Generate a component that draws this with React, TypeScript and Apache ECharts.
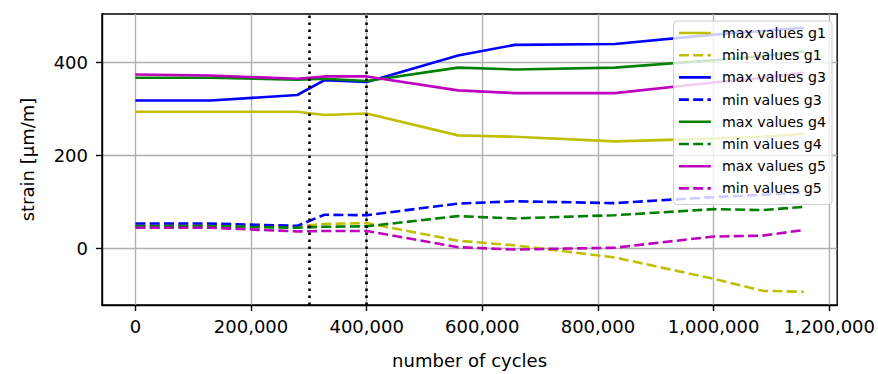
import React, { useEffect, useRef } from "react";
import * as echarts from "echarts";

const cycles = [0, 130000, 280000, 327000, 400000, 558000, 656000, 829000, 1000000, 1085000, 1156000];
const maxG1 = [294, 294, 294, 287, 290, 243, 240, 230, 236, 240, 246];
const minG1 = [49, 49, 47, 52, 54, 16, 6, -20, -66, -92, -94];
const maxG3 = [318, 318, 330, 362, 358, 415, 438, 440, 460, 468, 475];
const minG3 = [53, 53, 48, 72, 71, 96, 101, 97, 110, 115, 120];
const maxG4 = [367, 367, 363, 365, 360, 389, 385, 389, 405, 414, 424];
const minG4 = [47, 47, 44, 46, 47, 69, 64, 71, 84, 82, 89];
const maxG5 = [374, 372, 365, 370, 370, 340, 334, 334, 357, 367, 378];
const minG5 = [44, 44, 36, 37, 37, 2, -3, 1, 25, 27, 39];

const seriesNames = [
  "max values g1",
  "min values g1",
  "max values g3",
  "min values g3",
  "max values g4",
  "min values g4",
  "max values g5",
  "min values g5",
];
const seriesValues = [maxG1, minG1, maxG3, minG3, maxG4, minG4, maxG5, minG5];
const seriesColors = ["#bfbf00", "#bfbf00", "#0000ff", "#0000ff", "#008000", "#008000", "#bf00bf", "#bf00bf"];

const xTicks = [0, 200000, 400000, 600000, 800000, 1000000, 1200000];
const yTicks = [0, 200, 400];
const markerCycles = [300000, 400000];

const FONT = "DejaVu Sans";

export default function App() {
  const ref = useRef<HTMLDivElement>(null);
  useEffect(() => {
    if (!ref.current) return;
    const chart = echarts.init(ref.current, null, { renderer: "svg" });
    const lineSeries = seriesNames.map((name, k) => ({
      name,
      type: "line",
      data: cycles.map((c, i) => [c, seriesValues[k][i]]),
      symbol: "none",
      showSymbol: false,
      color: seriesColors[k],
      lineStyle: {
        color: seriesColors[k],
        width: 2.6,
        type: k % 2 === 1 ? [10, 4.3] : "solid",
      },
      z: 3,
    }));
    const option: any = {
      animation: false,
      backgroundColor: "#fff",
      grid: {
        left: 102,
        right: 40.5,
        top: 14,
        bottom: 66.5,
        show: true,
        borderColor: "#000",
        borderWidth: 1.4,
        backgroundColor: "transparent",
      },
      legend: {
        data: seriesNames,
        orient: "vertical",
        right: 46,
        top: 21,
        itemWidth: 32,
        itemHeight: 14,
        itemGap: 8.2,
        padding: [5, 6, 9, 4],
        backgroundColor: "rgba(255,255,255,0.8)",
        borderColor: "#cccccc",
        borderWidth: 1,
        borderRadius: 3,
        itemStyle: { opacity: 0, color: "transparent", borderWidth: 0 },
        lineStyle: { width: 2.6 },
        textStyle: {
          fontFamily: FONT,
          fontSize: 14.2,
          color: "#000",
          lineHeight: 14,
          padding: [0, 0, 0, 6],
        },
      },
      xAxis: {
        type: "value",
        min: -57800,
        max: 1213800,
        name: "number of cycles",
        nameLocation: "middle",
        nameGap: 46,
        nameTextStyle: { fontFamily: FONT, fontSize: 18, color: "#000" },
        axisLine: { show: true, onZero: false, lineStyle: { color: "#000", width: 1.4 } },
        axisTick: {
          show: true,
          length: 6,
          lineStyle: { color: "#000", width: 1.4 },
          customValues: xTicks,
        },
        axisLabel: {
          fontFamily: FONT,
          fontSize: 18,
          color: "#000",
          margin: 12,
          customValues: xTicks,
          formatter: (v: number) => v.toLocaleString("en-US"),
        },
        splitLine: { show: true, lineStyle: { color: "#b0b0b0", width: 1.4 } },
      },
      yAxis: {
        type: "value",
        min: -122.5,
        max: 504.5,
        name: "strain [µm/m]",
        nameLocation: "middle",
        nameGap: 66,
        nameTextStyle: { fontFamily: FONT, fontSize: 18, color: "#000" },
        axisLine: { show: true, onZero: false, lineStyle: { color: "#000", width: 1.4 } },
        axisTick: {
          show: true,
          length: 6,
          lineStyle: { color: "#000", width: 1.4 },
          customValues: yTicks,
        },
        axisLabel: {
          fontFamily: FONT,
          fontSize: 18,
          color: "#000",
          margin: 14,
          customValues: yTicks,
        },
        splitLine: { show: true, lineStyle: { color: "#b0b0b0", width: 1.4 } },
      },
      series: [
        ...lineSeries,
        {
          name: "markers",
          type: "line",
          data: [],
          silent: true,
          markLine: {
            symbol: "none",
            silent: true,
            label: { show: false },
            lineStyle: { color: "#000", width: 2.6, type: [2.6, 4.4] },
            data: markerCycles.map((c) => ({ xAxis: c })),
          },
          z: 4,
        },
      ],
    };
    chart.setOption(option);
    return () => chart.dispose();
  }, []);
  return (
    <div
      ref={ref}
      style={{ position: "fixed", left: 0, top: 0, width: 878, height: 374 }}
    />
  );
}
